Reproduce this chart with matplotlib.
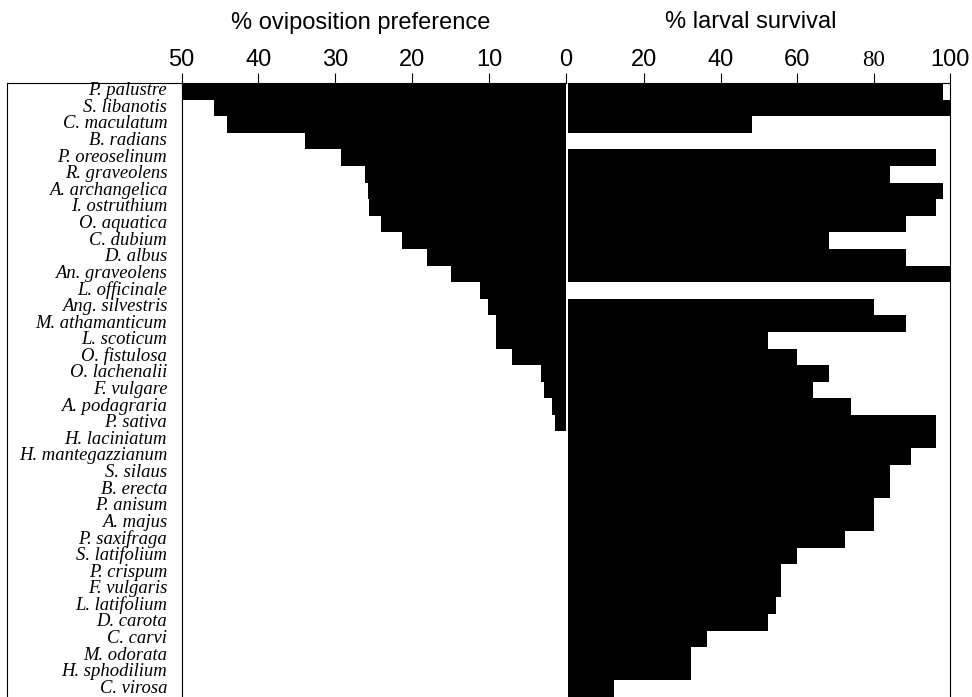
import numpy as np
import matplotlib
matplotlib.use("Agg")
import matplotlib.pyplot as plt
from matplotlib.transforms import ScaledTranslation

# Umbellifer host plants, ordered by oviposition preference
species = [
    "P. palustre", "S. libanotis", "C. maculatum", "B. radians", "P. oreoselinum",
    "R. graveolens", "A. archangelica", "I. ostruthium", "O. aquatica", "C. dubium",
    "D. albus", "An. graveolens", "L. officinale", "Ang. silvestris", "M. athamanticum",
    "L. scoticum", "O. fistulosa", "O. lachenalii", "F. vulgare", "A. podagraria",
    "P. sativa", "H. laciniatum", "H. mantegazzianum", "S. silaus", "B. erecta",
    "P. anisum", "A. majus", "P. saxifraga", "S. latifolium", "P. crispum",
    "F. vulgaris", "L. latifolium", "D. carota", "C. carvi", "M. odorata",
    "H. sphodilium", "C. virosa",
]

oviposition = [
    50.0, 45.8, 44.1, 34.0, 29.2, 26.1, 25.8, 25.6, 24.0, 21.3,
    18.1, 15.0, 11.2, 10.2, 9.1, 9.1, 7.0, 3.2, 2.9, 1.8,
    1.4, 0, 0, 0, 0, 0, 0, 0, 0, 0,
    0, 0, 0, 0, 0, 0, 0,
]

survival = [
    98.2, 100, 48.3, 0, 96.3, 84.3, 98.3, 96.3, 88.5, 68.4,
    88.5, 100, 0, 80.2, 88.5, 52.4, 60.1, 68.4, 64.3, 74.0,
    96.3, 96.3, 89.9, 84.3, 84.3, 80.2, 80.2, 72.6, 60.1, 55.9,
    55.9, 54.5, 52.4, 36.4, 32.3, 32.3, 12.2,
]

ovi_ticks = [50, 40, 30, 20, 10, 0]
surv_ticks = [20, 40, 60, 80, 100]

W, H = 972, 697
fig = plt.figure(figsize=(W / 100, H / 100), dpi=100)
fig.patch.set_facecolor("white")

SANS = ["Liberation Sans", "DejaVu Sans"]
NARROW = ["Liberation Sans Narrow", "Liberation Sans", "DejaVu Sans"]
SERIF = ["Liberation Serif", "DejaVu Serif"]


def px_axes(x0, x1, y0, y1):
    """Axes placed by pixel edges measured from the top-left corner."""
    return fig.add_axes([x0 / W, 1 - y1 / H, (x1 - x0) / W, (y1 - y0) / H])


top, bottom = 83, 697
ax_box = px_axes(7, 181.5, top, bottom)
ax_l = px_axes(181.5, 566, top, bottom)
ax_r = px_axes(567.5, 950, top, bottom)

n = len(species)
y = np.arange(n)

# crisp, seam-free stacked bars
ax_l.barh(y, oviposition, height=1.0, color="black", linewidth=0, antialiased=False)
ax_r.barh(y, survival, height=1.0, color="black", linewidth=0, antialiased=False)

for ax in (ax_box, ax_l, ax_r):
    ax.set_ylim(n - 0.5, -0.5)
    for s in ax.spines.values():
        s.set_linewidth(0.8)
    ax.spines["bottom"].set_visible(False)

# label box
ax_box.set_xticks([])
ax_box.set_yticks([])

# oviposition panel (reversed axis)
ax_l.set_xlim(50, 0)
ax_l.spines["right"].set_visible(False)
ax_l.xaxis.tick_top()
ax_l.set_xticks(ovi_ticks, labels=[str(t) for t in ovi_ticks])
ax_l.tick_params(axis="x", direction="out", length=7.2, width=0.8, pad=1.3, labelsize=17)
ax_l.set_yticks(y, labels=species)
ax_l.tick_params(axis="y", length=0, pad=10.3)
lift = ScaledTranslation(0, 2.5 / 100, fig.dpi_scale_trans)
for lbl in ax_l.get_yticklabels():
    lbl.set_fontfamily(SERIF)
    lbl.set_fontstyle("italic")
    lbl.set_fontsize(13.4)
    lbl.set_transform(lbl.get_transform() + lift)

# survival panel
ax_r.set_xlim(0, 100)
ax_r.spines["left"].set_visible(False)
ax_r.xaxis.tick_top()
ax_r.set_xticks(surv_ticks, labels=[str(t) for t in surv_ticks])
ax_r.tick_params(axis="x", direction="out", length=7.2, width=0.8, pad=1.3, labelsize=17)
ax_r.set_yticks([])

for ax in (ax_l, ax_r):
    for lbl in ax.get_xticklabels():
        lbl.set_fontfamily(NARROW)
for lbl in ax_r.get_xticklabels():
    if lbl.get_text() == "80":
        lbl.set_fontfamily(SERIF)
        lbl.set_fontsize(16.5)

fig.text(360.5 / W, 1 - 28.5 / H, "% oviposition preference", ha="center",
         va="baseline", fontsize=17, family=SANS)
fig.text(751 / W, 1 - 28.5 / H, "% larval survival", ha="center",
         va="baseline", fontsize=17, family=SANS)

fig.savefig("out.png", dpi=100, facecolor="white")
